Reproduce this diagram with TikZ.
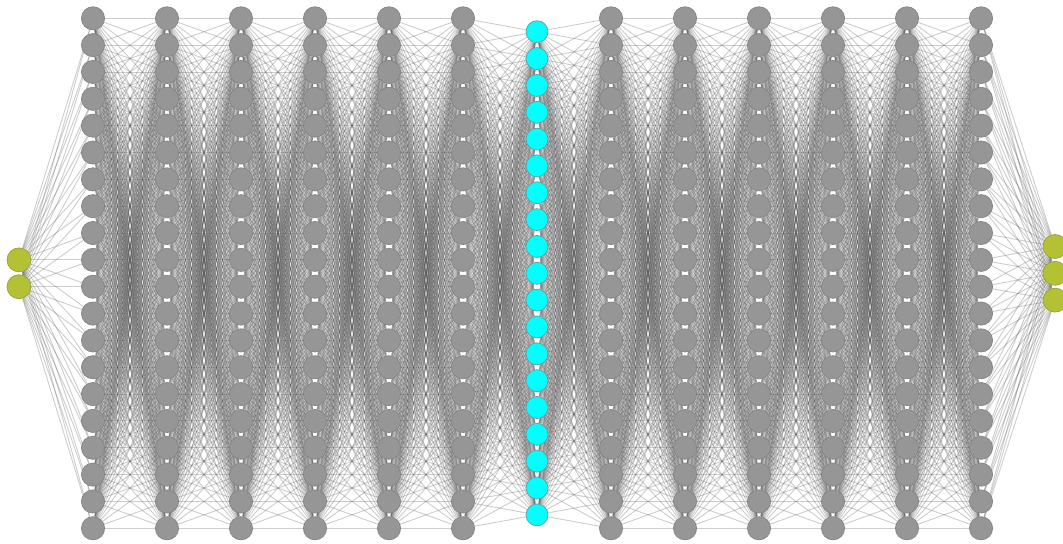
\documentclass[tikz,border=0pt]{standalone}
\usetikzlibrary{backgrounds}
\definecolor{hidfill}{RGB}{150,150,150}
\definecolor{hiddraw}{RGB}{132,132,132}
\definecolor{iofill}{RGB}{181,193,52}
\definecolor{iodraw}{RGB}{150,160,60}
\definecolor{codefill}{RGB}{0,255,255}
\definecolor{codedraw}{RGB}{110,150,150}
\tikzset{
  neuron/.style={circle, inner sep=0pt, line width=0.35pt},
  hid/.style={neuron, fill=hidfill, draw=hiddraw, minimum size=11.6pt},
  io/.style={neuron, fill=iofill, draw=iodraw, minimum size=12pt},
  code/.style={neuron, fill=codefill, draw=codedraw, minimum size=11pt},
  synapse/.style={draw=black!65, opacity=0.3, line width=0.45pt}
}
\begin{document}
\begin{tikzpicture}[x=0.5pt, y=-0.5pt]
\useasboundingbox (0,0) rectangle (1063,544);
\foreach \i/\n/\s in {0/2/io,1/20/hid,2/20/hid,3/20/hid,4/20/hid,5/20/hid,6/20/hid,7/19/code,8/20/hid,9/20/hid,10/20/hid,11/20/hid,12/20/hid,13/20/hid,14/3/io}
  \foreach \j in {1,...,\n}
    \node[\s] (L\i-\j) at ({19+74*\i}, {273.3+26.84*(\j-(\n+1)/2)}) {};
\begin{pgfonlayer}{background}
\foreach \i/\n/\m in {0/2/20,1/20/20,2/20/20,3/20/20,4/20/20,5/20/20,6/20/19,7/19/20,8/20/20,9/20/20,10/20/20,11/20/20,12/20/20,13/20/3}{
  \pgfmathtruncatemacro\k{\i+1}
  \foreach \a in {1,...,\n}
    \foreach \b in {1,...,\m}
      \draw[synapse] (L\i-\a) -- (L\k-\b);
}
\end{pgfonlayer}
\end{tikzpicture}
\end{document}
